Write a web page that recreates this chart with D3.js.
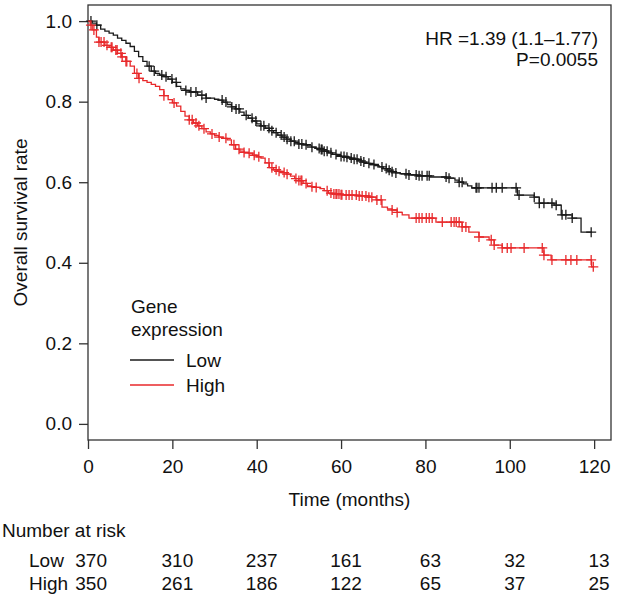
<!DOCTYPE html>
<html>
<head>
<meta charset="utf-8">
<script src="https://cdn.jsdelivr.net/npm/d3@7"></script>
<style>
  body { margin: 0; background: #fff; }
  svg text { font-family: "Liberation Sans", Arial, Helvetica, sans-serif; fill: #111; }
</style>
</head>
<body>
<svg id="chart" width="618" height="597"></svg>
<script>
// ---- data ----
const xTicks = [0, 20, 40, 60, 80, 100, 120];
const yTicks = [0.0, 0.2, 0.4, 0.6, 0.8, 1.0];

const lowTimes = [0, 1, 2, 3, 4, 5, 6, 7, 8, 9, 10, 11, 12, 13, 14, 15, 16, 17, 18, 19, 20, 21, 22, 23, 24, 26, 28, 30, 31, 32, 33, 34, 35, 36, 37, 38, 39, 40, 41, 42, 43, 44, 45, 46, 47, 48, 49, 50, 51, 52, 53, 54, 55, 56, 57, 58, 59, 60, 61, 62, 63, 64, 65, 66, 67, 68, 69, 70, 71, 72, 73, 74, 76, 78, 81, 85, 87, 88, 89, 90, 91, 101.8, 105.8, 107, 110.5, 112.2, 114.8, 116.9, 119.5];
const lowSurv = [1.0, 0.995, 0.99, 0.98, 0.975, 0.97, 0.965, 0.958, 0.952, 0.945, 0.937, 0.925, 0.912, 0.9, 0.888, 0.876, 0.87, 0.866, 0.862, 0.856, 0.848, 0.838, 0.832, 0.828, 0.824, 0.816, 0.809, 0.806, 0.804, 0.799, 0.793, 0.787, 0.782, 0.774, 0.766, 0.759, 0.752, 0.745, 0.74, 0.734, 0.728, 0.723, 0.717, 0.712, 0.707, 0.702, 0.698, 0.695, 0.693, 0.69, 0.687, 0.684, 0.681, 0.677, 0.673, 0.669, 0.666, 0.664, 0.662, 0.66, 0.657, 0.653, 0.65, 0.647, 0.644, 0.641, 0.638, 0.634, 0.63, 0.626, 0.623, 0.621, 0.618, 0.616, 0.613, 0.61, 0.605, 0.6, 0.596, 0.591, 0.586, 0.568, 0.563, 0.548, 0.543, 0.519, 0.511, 0.476, 0.476];
const lowCensor = [0.7, 2.1, 14.5, 15.7, 17.5, 18.5, 19.9, 20.9, 23.2, 24.4, 25.6, 27.0, 28.0, 31.8, 32.7, 34.1, 35.1, 35.8, 37.5, 38.9, 39.8, 41.0, 41.7, 42.9, 43.6, 44.6, 45.8, 46.5, 47.2, 48.1, 48.9, 50.0, 50.7, 51.7, 53.1, 54.8, 55.3, 55.5, 56.0, 56.7, 57.6, 58.8, 60.0, 60.7, 61.4, 62.4, 63.1, 63.8, 64.7, 65.4, 66.6, 67.8, 69.7, 70.7, 71.4, 72.1, 73.0, 75.4, 76.1, 77.8, 78.5, 79.2, 80.4, 80.9, 84.9, 85.6, 88.0, 88.7, 92.0, 92.2, 92.7, 95.8, 96.8, 98.2, 101.5, 102.2, 105.8, 107.0, 108.1, 110.0, 111.0, 112.4, 113.3, 114.8, 119.3];

const highTimes = [0, 0.5, 1, 2, 2.6, 4, 5, 6, 7, 8, 9, 10, 11, 12, 13, 14, 15, 16, 17, 18, 19, 20, 21, 22, 23, 24, 25, 26, 27, 28, 29, 30, 31, 32, 33, 34, 35, 36, 37, 38, 39, 40, 41, 42, 43, 44, 45, 46, 47, 48, 49, 50, 51, 52, 53, 54, 55, 56, 57, 58, 60, 61.2, 64, 66.6, 68.3, 69.7, 71, 72.1, 73.3, 74.5, 76.1, 82.5, 88.7, 90.3, 92.7, 95.1, 96.3, 98.2, 108.1, 109.8, 119.4, 120];
const highSurv = [1.0, 0.99, 0.978, 0.96, 0.948, 0.94, 0.935, 0.928, 0.92, 0.911, 0.9, 0.888, 0.87, 0.858, 0.852, 0.848, 0.843, 0.838, 0.83, 0.815, 0.805, 0.797, 0.789, 0.776, 0.764, 0.755, 0.747, 0.74, 0.733, 0.725, 0.72, 0.716, 0.712, 0.709, 0.705, 0.693, 0.682, 0.677, 0.674, 0.672, 0.667, 0.663, 0.66, 0.648, 0.636, 0.631, 0.627, 0.624, 0.62, 0.615, 0.609, 0.604, 0.597, 0.591, 0.589, 0.587, 0.584, 0.579, 0.573, 0.571, 0.569, 0.568, 0.566, 0.563, 0.556, 0.538, 0.534, 0.531, 0.525, 0.519, 0.511, 0.501, 0.489, 0.476, 0.464, 0.457, 0.444, 0.437, 0.419, 0.407, 0.39, 0.39];
const highCensor = [0.7, 1.4, 2.6, 3.1, 3.8, 4.5, 5.5, 5.7, 6.6, 6.9, 7.8, 8.1, 9.0, 9.2, 11.6, 12.1, 18.0, 20.4, 24.0, 24.7, 25.6, 26.3, 27.5, 29.4, 31.1, 32.7, 34.6, 35.8, 37.0, 38.2, 39.4, 40.5, 42.9, 43.6, 44.6, 45.3, 46.5, 47.2, 49.3, 50.0, 50.5, 50.7, 51.7, 53.1, 54.1, 56.7, 57.6, 58.3, 58.8, 59.0, 59.5, 60.0, 60.2, 61.2, 61.9, 62.6, 63.6, 64.3, 65.0, 65.9, 66.6, 67.3, 68.5, 69.5, 72.1, 73.3, 77.8, 78.5, 79.2, 80.2, 80.9, 81.6, 84.0, 86.1, 86.8, 87.3, 88.0, 88.7, 89.6, 92.7, 95.6, 96.3, 98.2, 99.4, 100.3, 103.4, 107.7, 108.1, 110.0, 113.3, 114.5, 115.9, 119.3, 119.8];

const riskTimes = [0, 20, 40, 60, 80, 100, 120];
const riskLow = [370, 310, 237, 161, 63, 32, 13];
const riskHigh = [350, 261, 186, 122, 65, 37, 25];
const groupNames = ["Low", "High"];
const groupColors = ["#1a1a1a", "#e8292b"];

// ---- drawing ----
const svg = d3.select("#chart");
const FONT = 19;
const x = d3.scaleLinear().domain([0, 124]).range([88, 611]);
const y = d3.scaleLinear().domain([-0.04, 1.04]).range([440, 5]);

// frame
svg.append("rect")
  .attr("x", x.range()[0]).attr("y", y.range()[1])
  .attr("width", x.range()[1] - x.range()[0])
  .attr("height", y.range()[0] - y.range()[1])
  .attr("fill", "none").attr("stroke", "#333").attr("stroke-width", 1.3);

// axes
const xAxis = svg.append("g").attr("transform", `translate(0,${y.range()[0]})`)
  .call(d3.axisBottom(x).tickValues(xTicks).tickFormat(d3.format("d")).tickSize(9).tickPadding(11));
const yAxis = svg.append("g").attr("transform", `translate(${x.range()[0]},0)`)
  .call(d3.axisLeft(y).tickValues(yTicks).tickFormat(d3.format(".1f")).tickSize(9).tickPadding(7));
[xAxis, yAxis].forEach(g => {
  g.select(".domain").remove();
  g.selectAll(".tick line").attr("stroke", "#333").attr("stroke-width", 1.3);
  g.selectAll(".tick text").attr("font-size", FONT).attr("fill", "#111")
    .style("font-family", '"Liberation Sans", Arial, sans-serif');
});

// axis titles
svg.append("text").attr("x", (x.range()[0] + x.range()[1]) / 2).attr("y", 506)
  .attr("text-anchor", "middle").attr("font-size", FONT).text("Time (months)");
svg.append("text").attr("transform", `translate(27,${(y(0) + y(1)) / 2}) rotate(-90)`)
  .attr("text-anchor", "middle").attr("font-size", FONT).text("Overall survival rate");

// curves
const series = [
  { times: lowTimes, surv: lowSurv, censor: lowCensor },
  { times: highTimes, surv: highSurv, censor: highCensor }
];
const line = d3.line().x(d => x(d[0])).y(d => y(d[1])).curve(d3.curveStepAfter);
const bis = d3.bisector(d => d).right;
series.forEach((s, i) => {
  const pts = s.times.map((t, k) => [t, s.surv[k]]);
  svg.append("path").datum(pts).attr("d", line)
    .attr("fill", "none").attr("stroke", groupColors[i]).attr("stroke-width", 1.3);
  const half = 5;
  const g = svg.append("g").attr("stroke", groupColors[i]).attr("stroke-width", 1.3);
  s.censor.forEach(t => {
    const idx = Math.max(0, bis(s.times, t) - 1);
    const cx = x(t), cy = y(s.surv[idx]);
    g.append("path").attr("d", `M${cx - half},${cy}H${cx + half}M${cx},${cy - half}V${cy + half}`);
  });
});

// HR text
svg.append("text").attr("x", 598).attr("y", 45).attr("text-anchor", "end")
  .attr("font-size", FONT).text("HR =1.39 (1.1\u20131.77)");
svg.append("text").attr("x", 598).attr("y", 66).attr("text-anchor", "end")
  .attr("font-size", FONT).text("P=0.0055");

// legend
svg.append("text").attr("x", 131).attr("y", 313).attr("font-size", FONT).text("Gene");
svg.append("text").attr("x", 131).attr("y", 336).attr("font-size", FONT).text("expression");
groupNames.forEach((name, i) => {
  const ly = 360 + i * 25;
  svg.append("line").attr("x1", 130).attr("x2", 174).attr("y1", ly).attr("y2", ly)
    .attr("stroke", groupColors[i]).attr("stroke-width", 1.3);
  svg.append("text").attr("x", 186).attr("y", ly + 7).attr("font-size", FONT).text(name);
});

// number at risk
svg.append("text").attr("x", 2).attr("y", 537).attr("font-size", FONT).text("Number at risk");
[riskLow, riskHigh].forEach((vals, i) => {
  const ry = 567 + i * 23;
  svg.append("text").attr("x", 29).attr("y", ry).attr("font-size", FONT).text(groupNames[i]);
  vals.forEach((v, k) => {
    const t = riskTimes[k];
    const isFirst = k === 0;
    svg.append("text")
      .attr("x", isFirst ? 107 : x(t) + 5)
      .attr("y", ry)
      .attr("text-anchor", isFirst ? "end" : "middle")
      .attr("font-size", FONT).text(v);
  });
});
</script>
</body>
</html>
